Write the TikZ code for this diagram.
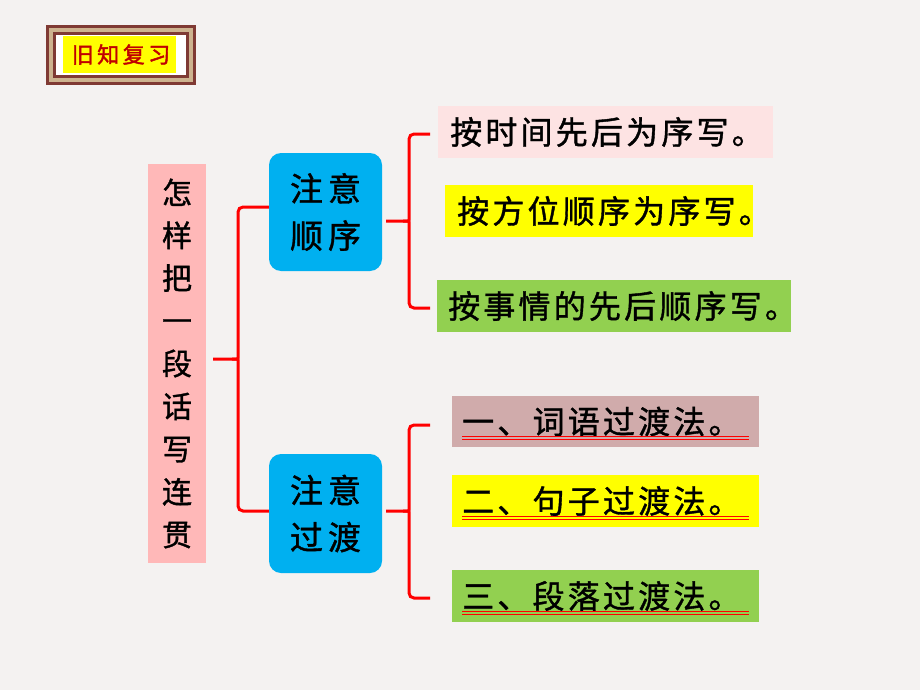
\documentclass[tikz,border=0pt]{standalone}
\usepackage{fontspec}
\newfontfamily\cjk{Noto Sans CJK SC}[FakeBold=1.2]
\newfontfamily\cjkt{Noto Sans CJK SC}[FakeBold=1.2,LetterSpace=10]
\newfontfamily\cjkh{Noto Sans CJK SC}[FakeBold=2,LetterSpace=16]
\definecolor{paper}{HTML}{F4F2F1}
\definecolor{framec}{HTML}{7F3A34}
\definecolor{tanc}{HTML}{CDB38F}
\definecolor{titlered}{HTML}{C00000}
\definecolor{lpink}{HTML}{FFB8B8}
\definecolor{blueb}{HTML}{00B0F0}
\definecolor{palepink}{HTML}{FDE3E3}
\definecolor{yel}{HTML}{FFFF00}
\definecolor{grn}{HTML}{92D050}
\definecolor{rosy}{HTML}{D0ABAB}
\definecolor{bred}{HTML}{FF0000}
\tikzset{
  lbox/.style={fill=lpink, minimum width=58pt, minimum height=399pt, inner sep=0pt, align=center,
    font=\cjk\fontsize{30}{42.75}\selectfont},
  bbox/.style={fill=blueb, rounded corners=12pt, minimum width=113pt, inner sep=0pt, align=center,
    font=\cjk\fontsize{33}{47}\selectfont},
  tbox/.style={anchor=west, minimum height=52pt, inner ysep=0pt, align=left,
    font=\cjkt\fontsize{32}{36}\selectfont},
  titlebox/.style={fill=yel, text=titlered, minimum width=113pt, minimum height=37pt, inner sep=0pt,
    font=\cjkh\fontsize{22}{24}\selectfont},
  br/.style={draw=bred, line width=3pt, rounded corners=5pt},
  ul/.style={draw=bred, line width=0.9pt}
}
\begin{document}
\begin{tikzpicture}[x=1pt,y=-1pt]
\fill[paper] (0,0) rectangle (920,690);
\useasboundingbox (0,0) rectangle (920,690);
% title frame
\fill[framec] (46,25) rectangle (196,85);
\fill[tanc] (49,28) rectangle (193,82);
\fill[framec] (53,32) rectangle (189,78);
\fill[white] (56,35) rectangle (186,75);
\node[titlebox] (title) at (119.5,54.5) {\hspace{3pt}旧知复习};
% left box
\node[lbox] (L) at (177,363.5) {怎\\样\\把\\一\\段\\话\\写\\连\\贯};
% blue boxes
\node[bbox, minimum height=118pt] (A) at (325.5,212) {注\hspace{5pt}意\\顺\hspace{5pt}序};
\node[bbox, minimum height=119pt] (B) at (325.5,513.5) {注\hspace{5pt}意\\过\hspace{5pt}渡};
% text boxes
\node[tbox, fill=palepink, inner xsep=12pt, text width=311pt] (t1) at (438,132) {按时间先后为序写。};
\node[tbox, fill=yel, inner xsep=12pt, text width=284pt] (t2) at (445,211) {按方位顺序为序写。};
\node[tbox, fill=grn, inner xsep=11pt, text width=332pt] (t3) at (437,306) {按事情的先后顺序写。};
\node[tbox, fill=rosy, inner xsep=10pt, text width=287pt, minimum height=51pt] (t4) at (452,421.5) {一、词语过渡法。};
\node[tbox, fill=yel, inner xsep=10pt, text width=287pt] (t5) at (452,501) {二、句子过渡法。};
\node[tbox, fill=grn, inner xsep=10pt, text width=287pt] (t6) at (452,596) {三、段落过渡法。};
% underlines
\foreach \t in {t4,t5,t6}{
  \draw[ul] ([xshift=10pt,yshift=8pt]\t.south west) -- ([xshift=-10pt,yshift=8pt]\t.south east);
  \draw[ul] ([xshift=10pt,yshift=10.5pt]\t.south west) -- ([xshift=-10pt,yshift=10.5pt]\t.south east);
}
% braces
\coordinate (tipL) at (213,359);
\coordinate (ta) at (386,221);
\coordinate (tb) at (386,511);
\draw[br] ([yshift=5pt]A.west) -| (238,353) .. controls (238,359) .. (232,359) -- (tipL);
\draw[br] ([yshift=2.5pt]B.west) -| (238,365) .. controls (238,359) .. (232,359);
\draw[br] ([xshift=-8pt,yshift=-2pt]t1.west) -| (409,215) .. controls (409,221) .. (403,221) -- (ta);
\draw[br] ([xshift=-7pt,yshift=-2pt]t3.west) -| (409,227) .. controls (409,221) .. (403,221);
\draw[br] ([xshift=-22pt,yshift=-3.5pt]t4.west) -| (409,505) .. controls (409,511) .. (403,511) -- (tb);
\draw[br] ([xshift=-22pt,yshift=-2pt]t6.west) -| (409,517) .. controls (409,511) .. (403,511);
\end{tikzpicture}
\end{document}
